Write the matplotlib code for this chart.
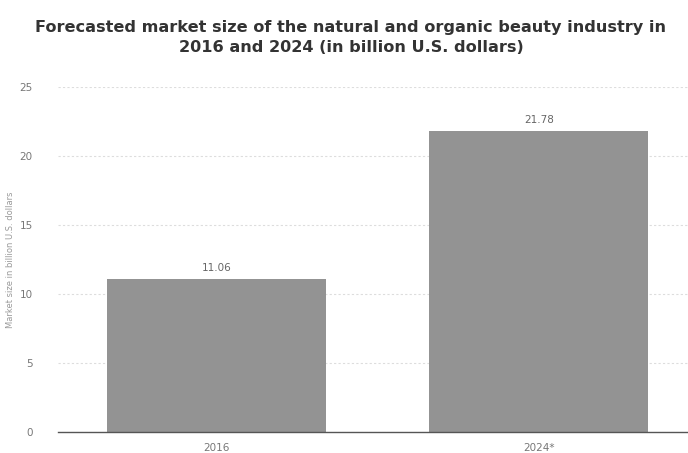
import matplotlib
matplotlib.use("Agg")
import matplotlib.pyplot as plt

categories = ["2016", "2024*"]
values = [11.06, 21.78]
value_labels = ["11.06", "21.78"]
yticks = [0, 5, 10, 15, 20, 25]

fig = plt.figure(figsize=(6.88, 4.53), dpi=100)
ax = fig.add_axes([0.084, 0.046, 0.916, 0.762])

x = list(range(len(categories)))
ax.bar(x, values, width=0.68, color="#939393", zorder=2)
for xi, v, lab in zip(x, values, value_labels):
    ax.text(xi, v + 0.5, lab, ha="center", va="bottom", fontsize=7.5, color="#666666")

ax.set_xlim(-0.494, 1.463)
ax.set_ylim(0, 25)
ax.set_yticks(yticks)
ax.set_xticks(x)
ax.set_xticklabels(categories)
ax.tick_params(axis="both", length=0, labelsize=7.5, colors="#777777")
ax.tick_params(axis="y", pad=18)
ax.tick_params(axis="x", pad=8)
ax.yaxis.grid(True, linestyle=(0, (2, 2)), color="#dddddd", linewidth=0.8, zorder=0)
for s in ["top", "right", "left"]:
    ax.spines[s].set_visible(False)
ax.spines["bottom"].set_color("#555555")
ax.spines["bottom"].set_linewidth(1.0)
ax.spines["bottom"].set_zorder(3)
ax.set_ylabel("Market size in billion U.S. dollars", fontsize=6, color="#999999")
ax.yaxis.set_label_coords(-0.068, 0.5)

fig.text(0.51, 0.955, "Forecasted market size of the natural and organic beauty industry in\n2016 and 2024 (in billion U.S. dollars)",
         ha="center", va="top", fontsize=11.6, fontweight="bold", color="#333333", linespacing=1.35)

fig.savefig("out.png", dpi=100)
